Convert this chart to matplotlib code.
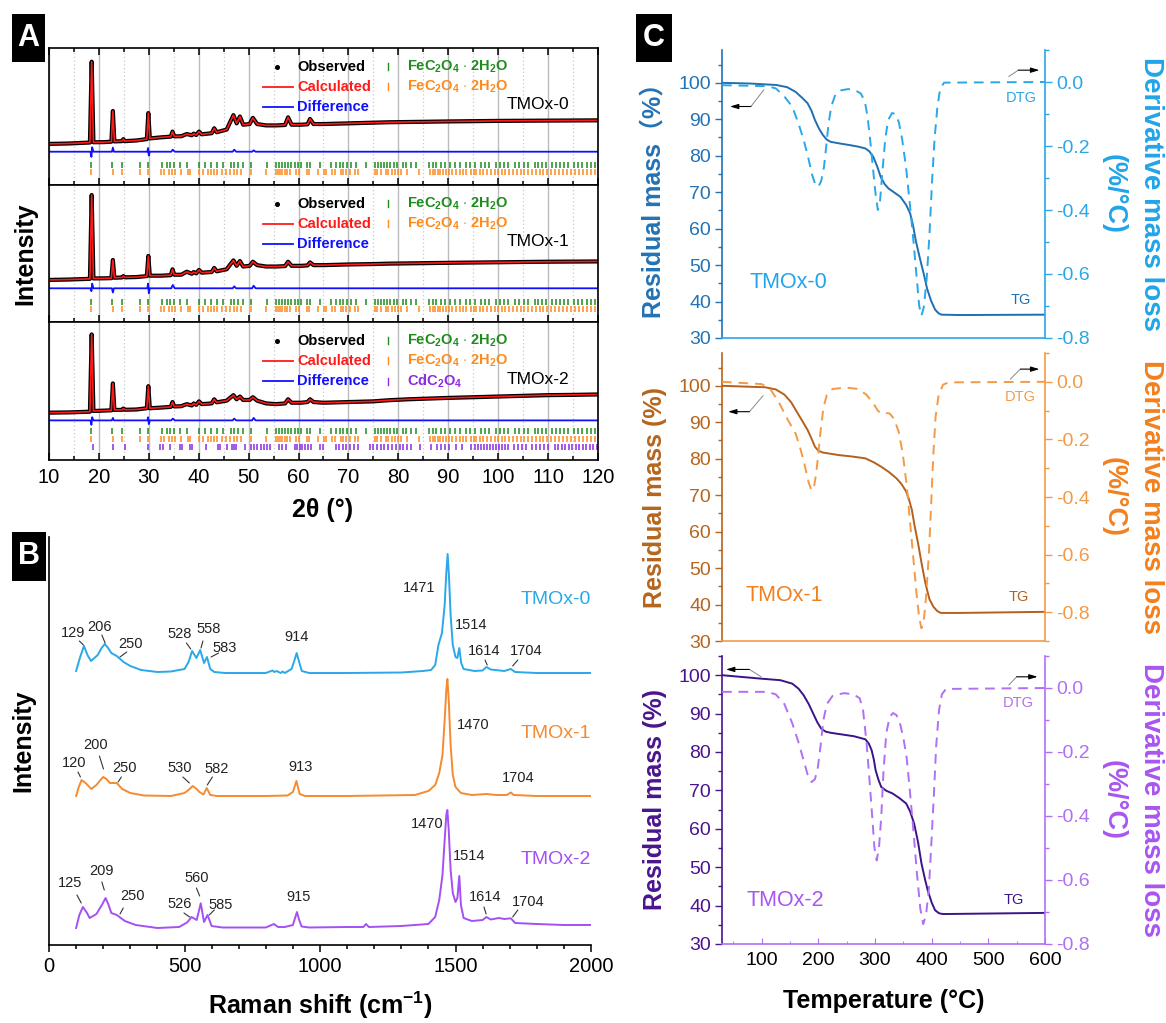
import matplotlib
matplotlib.use('Agg')
import matplotlib.pyplot as plt
from matplotlib.patches import Rectangle
from matplotlib.ticker import MultipleLocator, NullLocator, FixedLocator, FormatStrFormatter

plt.rcParams['font.family'] = ['Liberation Sans', 'DejaVu Sans']
plt.rcParams['mathtext.fontset'] = 'custom'
plt.rcParams['mathtext.rm'] = 'Liberation Sans:bold'
plt.rcParams['mathtext.it'] = 'Liberation Sans:bold'
plt.rcParams['mathtext.bf'] = 'Liberation Sans:bold'
plt.rcParams['mathtext.default'] = 'rm'
plt.rcParams['axes.linewidth'] = 1.2

# ---------------- DATA ----------------
# Panel A: XRD (2theta knots, intensity in panel units 0-100)
xrd_x = [10, 14, 18.2, 18.55, 18.9, 21, 22.5, 22.8, 23.1, 24.6,
         24.9, 25.2, 27.5, 29.6, 29.9, 30.2, 32.5, 34.4, 34.75, 35.1,
         36.5, 37.6, 38.6, 39.0, 39.5, 40.05, 40.6, 42.6, 43.1, 43.6,
         45.6, 46.95, 47.6, 48.25, 48.9, 50.2, 50.85, 51.7, 53.5, 55.5,
         57.3, 57.9, 58.6, 60.5, 61.8, 62.3, 63.0, 65, 70, 75,
         78, 82, 86, 90, 95, 100, 105, 110, 115, 120]
calc_tmox0 = [30, 30.3, 31, 90, 31.2, 31.3, 31.6, 54, 31.8, 32,
              33.5, 32, 32.5, 33.5, 52.5, 34, 34.8, 35.3, 39, 35.5,
              35.6, 37.2, 36.3, 37.5, 36.5, 39, 37, 37.8, 41.4, 38.5,
              40.5, 51, 45, 50, 44, 44.5, 49, 44.5, 43.5, 43.5,
              43.8, 49.4, 44, 44, 44.3, 48.2, 44.5, 44.5, 45, 45.5,
              45.8, 46, 46.2, 46.4, 46.6, 46.8, 46.9, 47, 47.1, 47.2]
calc_tmox1 = [30.7, 31, 31.5, 92.7, 31.8, 31.9, 32, 45.3, 32.3, 32.5,
              33.5, 32.6, 32.8, 33.5, 48.2, 33.8, 33.8, 34.2, 38.5, 34.5,
              34.5, 36.7, 35.2, 36.5, 35.5, 38, 36, 36.5, 39.5, 37,
              38.5, 45, 41, 44.5, 40.5, 41, 44, 41.5, 40.5, 40.5,
              40.8, 44, 41, 41, 41.3, 43.5, 41.5, 41.5, 42, 42.3,
              42.6, 42.8, 43, 43.2, 43.4, 43.6, 43.8, 44, 44.1, 44.2]
calc_tmox2 = [34.3, 34.5, 35, 91, 35.5, 35.8, 36, 55.5, 36.3, 36.3,
              37.3, 36.4, 36.6, 37.5, 53.5, 37.5, 38, 38.5, 42, 38.8,
              39, 40.5, 39.5, 41, 40, 42.5, 40.5, 41, 44, 41.8,
              43, 47, 44, 46, 43.5, 43.5, 45.5, 43, 41, 40.5,
              41, 44, 41.5, 41.5, 42, 44, 42, 41.5, 42, 42.5,
              43.3, 44, 44.5, 45, 45.5, 46, 46.5, 47, 47.2, 47.5]
obs_tmox0 = calc_tmox0
obs_tmox1 = calc_tmox1
obs_tmox2 = calc_tmox2
diff_x = [10, 18.3, 18.5, 18.65, 18.9, 22.6, 22.8, 23.0, 29.7, 29.85, 30.0,
          30.2, 34.5, 34.8, 35.2, 46.8, 47.1, 47.5, 50.7, 51.0, 51.4, 120]
diff_tmox0 = [24.3, 24.3, 20.5, 27.5, 24.3, 24.3, 27.3, 24.3, 24.3, 27.0, 21.5,
              24.3, 24.3, 25.8, 24.3, 24.3, 25.8, 24.3, 24.3, 25.3, 24.3, 24.3]
diff_tmox1 = [24.6, 24.6, 22.5, 28.0, 24.6, 24.6, 21.5, 24.6, 24.6, 28.0, 21.0,
              24.6, 24.6, 27.0, 24.6, 24.6, 26.0, 24.6, 24.6, 26.5, 24.6, 24.6]
diff_tmox2 = [28.7, 28.7, 25.5, 31.0, 28.7, 28.7, 30.5, 28.7, 28.7, 31.0, 26.0,
              28.7, 28.7, 30.0, 28.7, 28.7, 30.0, 28.7, 28.7, 30.5, 28.7, 28.7]
refl_fe_a = [18.5, 22.7, 24.6, 28.2, 29.8, 32.6, 33.7, 34.3, 35.0, 36.3, 37.7, 40.0,
             41.2, 42.5, 43.7, 44.9, 46.4, 47.0, 47.8, 48.9, 50.5, 53.6, 55.4, 56.0,
             56.6, 57.2, 57.9, 58.5, 59.2, 59.8, 60.5, 61.6, 62.3, 64.3, 66.5, 67.6,
             68.3, 69.0, 69.8, 70.6, 71.5, 73.5, 75.3, 75.9, 76.5, 77.1, 77.7, 78.4,
             79.1, 79.8, 80.9, 81.6, 82.5, 83.6, 86.2, 86.9, 87.6, 88.5, 89.4, 90.4,
             91.3, 92.4, 93.6, 94.4, 95.3, 96.5, 97.4, 98.2, 99.5, 100.4, 101.2, 102.0,
             103.4, 104.2, 105.1, 106.0, 107.3, 108.0, 108.8, 109.6, 110.7, 111.5,
             112.3, 113.1, 114.0, 115.2, 116.0, 116.8, 117.7, 118.6, 119.4]
refl_fe_b = [18.5, 22.9, 24.7, 28.3, 29.9, 32.4, 33.0, 34.1, 34.6, 35.3, 36.5, 37.8,
             38.2, 40.1, 40.8, 41.8, 42.4, 43.0, 43.6, 44.6, 45.4, 46.2, 47.0, 47.6,
             48.5, 50.5, 53.5, 55.5, 55.9, 56.3, 56.7, 57.2, 57.7, 58.3, 59.4, 60.0,
             61.6, 62.0, 63.9, 65.2, 65.6, 66.8, 67.3, 68.5, 69.0, 69.6, 70.4, 71.3,
             72.0, 75.4, 75.8, 76.6, 77.5, 78.0, 78.7, 79.4, 80.0, 80.6, 81.8, 84.1,
             86.4, 86.9, 87.4, 87.9, 88.4, 89.0, 89.6, 90.2, 90.8, 91.6, 92.4, 93.0,
             93.6, 94.6, 95.1, 95.6, 96.3, 97.0, 97.8, 98.6, 99.3, 100.0, 100.7, 101.4,
             102.2, 103.0, 103.8, 104.5, 105.2, 106.0, 106.7, 107.5, 108.3, 109.0,
             109.8, 110.6, 111.4, 112.2, 113.0, 113.8, 114.6, 115.4, 116.2, 117.0,
             117.8, 118.6, 119.4]
refl_cd = [18.9, 22.9, 25.2, 29.9, 32.2, 32.9, 34.2, 36.2, 36.7, 38.2, 38.7, 41.4,
           43.8, 44.3, 45.6, 46.6, 47.1, 47.5, 49.3, 50.4, 51.0, 51.6, 52.5, 53.0,
           53.6, 54.3, 56.0, 56.6, 57.5, 59.2, 59.7, 60.2, 60.7, 61.2, 61.8, 62.4,
           64.2, 65.0, 67.5, 68.2, 68.9, 69.6, 70.3, 71.1, 72.0, 74.3, 75.0, 75.8,
           76.5, 77.2, 78.0, 78.8, 79.5, 80.3, 81.0, 81.8, 82.6, 84.4, 86.6, 87.8,
           88.6, 89.3, 90.1, 91.5, 92.7, 94.5, 95.3, 96.0, 96.6, 97.2, 97.8, 98.4,
           99.0, 99.6, 100.2, 100.8, 101.4, 102.0, 103.2, 104.0, 104.8, 105.5, 106.8,
           107.6, 108.4, 109.2, 110.0, 111.3, 112.0, 112.7, 113.4, 114.1, 114.8,
           115.5, 116.2, 116.9, 117.6, 118.3, 119.0, 119.7]
xrd_samples = ['TMOx-0', 'TMOx-1', 'TMOx-2']

# Panel B: Raman (shift, offset intensity)
raman_x0 = [100, 115, 129, 142, 155, 180, 194, 206, 218, 230, 250, 275, 300,
            340, 400, 450, 500, 515, 528, 544, 558, 572, 583,
            595, 610, 650, 800, 825, 832, 840, 855, 862, 870,
            895, 905, 914, 923, 933, 960, 1100, 1300, 1380, 1410, 1425, 1437,
            1450, 1460, 1466, 1471, 1476, 1482, 1490, 1500, 1507, 1514,
            1521, 1530, 1570, 1600, 1614, 1630, 1680, 1704, 1720, 1800, 1900, 2000]
raman_y0 = [274, 288, 299, 290, 284, 290, 297, 301, 297, 292, 289, 283, 279,
            275, 273, 273.5, 276, 283, 294, 287, 295, 282, 288,
            276, 273, 272, 272, 274.5, 273, 274, 272, 273.5, 272,
            276, 284, 292, 283, 274, 272, 272, 272.5, 274, 275, 280, 300,
            312, 340, 372, 391, 368, 330, 300, 288, 287, 297,
            282, 276, 274, 274.5, 278, 275.5, 274, 276, 273, 272, 272, 272]
raman_x1 = [100, 110, 120, 135, 156, 175, 190, 200, 212, 225, 250, 270,
            300, 350, 450, 500, 515, 530, 545, 555, 570, 582, 595, 620,
            800, 880, 900, 913, 925, 945, 1100, 1350, 1400, 1425,
            1440, 1452, 1460, 1466, 1470, 1475, 1482, 1490, 1500, 1520,
            1560, 1614, 1650, 1690, 1704, 1715, 1800, 2000]
raman_y1 = [149, 158, 165, 162, 156, 160, 165, 168, 166, 162, 162, 156,
            152, 149.5, 149, 152, 155, 159, 156, 153, 150.5, 157, 150, 149,
            149, 149.5, 153, 164, 151, 149, 149, 150, 154, 160,
            172, 190, 225, 255, 266, 245, 200, 170, 158, 152,
            150, 151, 150, 150, 152.5, 150, 149, 149]
raman_x2 = [100, 112, 125, 138, 150, 175, 195, 209, 220, 230, 250, 280, 320,
            400, 480, 510, 526, 545, 560, 572, 585, 600, 640,
            800, 830, 845, 870, 900, 908, 915, 922, 932, 960, 1100, 1160,
            1170, 1180, 1300, 1400, 1425, 1440, 1452, 1460, 1466, 1470,
            1475, 1482, 1490, 1500, 1507, 1514, 1520, 1530, 1560, 1600,
            1614, 1630, 1660, 1680, 1704, 1720, 1800, 1900, 2000]
raman_y2 = [17, 30, 38, 33, 27, 31, 40, 47, 40, 32, 30, 24, 20,
            17, 18, 22.6, 28, 25, 41.7, 23, 30, 19, 17.5,
            17.5, 21, 18, 18, 20, 27, 33, 26, 18.5, 17.5, 18, 18,
            21, 18, 19, 21, 28, 45, 70, 105, 130, 135,
            115, 75, 52, 43, 47, 69, 40, 27, 24, 25,
            28, 25.5, 27, 26, 26.7, 22, 21, 20, 20]
raman_peaks0 = ['129', '206', '250', '528', '558', '583', '914', '1471', '1514', '1614', '1704']
raman_peaks1 = ['120', '200', '250', '530', '582', '913', '1470', '1704']
raman_peaks2 = ['125', '209', '250', '526', '560', '585', '915', '1470', '1514', '1614', '1704']

# Panel C: TG (residual mass %) / DTG (%/°C)
tg_t0 = [30, 80, 126, 145, 160, 172, 181, 188, 194, 201, 208, 215, 222, 240, 256, 270,
         283, 290, 297, 304, 310, 317, 324, 335, 345, 355, 362, 367, 372, 379, 386,
         392, 399, 406, 412, 417, 450, 600]
tg_m0 = [100, 99.8, 99.4, 98.8, 97.5, 95.8, 94.4, 92.3, 89.8, 87.5, 85.7, 84.4, 83.8, 83.3,
         82.9, 82.5, 82, 81.2, 79.7, 77, 74.2, 72.2, 71, 69.8, 68.7, 66.5, 64.2, 61, 56.7,
         52, 47.6, 43.5, 40.2, 37.8, 36.8, 36.4, 36.3, 36.4]
dtg_t0 = [30, 110, 125, 140, 154, 165, 174, 182, 189, 195, 200, 205, 210, 214, 218, 223,
          230, 240, 253, 265, 275, 282, 287, 292, 297, 301, 305, 309, 313, 318, 323, 330,
          336, 342, 348, 355, 362, 368, 374, 378, 382, 386, 391, 396, 401, 405, 410, 415,
          422, 600]
dtg_d0 = [-0.01, -0.013, -0.02, -0.045, -0.077, -0.13, -0.18, -0.235, -0.29, -0.322,
          -0.327, -0.31, -0.265, -0.2, -0.13, -0.075, -0.04, -0.026, -0.022, -0.026,
          -0.036, -0.06, -0.11, -0.19, -0.28, -0.35, -0.4, -0.37, -0.28, -0.18,
          -0.12, -0.097, -0.1, -0.125, -0.18, -0.27, -0.39, -0.5, -0.62, -0.7,
          -0.73, -0.705, -0.62, -0.48, -0.3, -0.18, -0.08, -0.02, -0.002, 0.0]
tg_t1 = [30, 106, 125, 140, 152, 160, 170, 181, 188, 194, 200, 208, 236, 260, 283, 298,
         311, 325, 338, 347, 355, 360, 365, 370, 376, 382, 389, 396, 403, 410, 416, 450, 600]
tg_m1 = [100, 99.6, 99.0, 97.6, 95.5, 93.4, 90.8, 87.9, 85.5, 83.3, 82.2, 81.7, 81, 80.6,
         80.1, 79, 77.8, 76.3, 74.6, 73, 71, 68.8, 66, 61.5, 56.8, 51.5, 45.8, 41.5, 39.4,
         38.2, 37.7, 37.7, 38.0]
dtg_t1 = [30, 100, 115, 130, 147, 160, 168, 176, 183, 188, 192, 196, 200, 204, 209, 215,
          225, 249, 270, 285, 297, 305, 311, 318, 326, 334, 342, 349, 356, 362, 368, 373,
          378, 382, 386, 390, 395, 399, 403, 407, 412, 420, 430, 600]
dtg_d1 = [0.0, -0.008, -0.025, -0.07, -0.135, -0.18, -0.23, -0.29, -0.35, -0.377,
          -0.37, -0.32, -0.25, -0.17, -0.09, -0.045, -0.025, -0.02, -0.025, -0.045,
          -0.075, -0.1, -0.11, -0.108, -0.11, -0.13, -0.175, -0.25, -0.36, -0.49,
          -0.62, -0.73, -0.82, -0.856, -0.83, -0.75, -0.6, -0.43, -0.25, -0.12,
          -0.05, -0.01, -0.002, 0.0]
tg_t2 = [30, 99, 133, 154, 165, 174, 183, 191, 198, 205, 213, 222, 263, 283, 289, 294,
         298, 301, 306, 311, 320, 331, 343, 355, 362, 369, 376, 382, 388, 393, 400, 406,
         413, 420, 480, 600]
tg_m2 = [100, 99.1, 98.7, 97.8, 96.5, 94.8, 92.5, 90, 87.8, 86.1, 85.3, 85, 84.1, 83.3,
         82.2, 80.5, 78, 75.3, 72.8, 70.9, 69.9, 69.2, 68, 66.6, 64.5, 61.4, 56.5, 51, 47,
         44, 40.8, 38.8, 38, 37.8, 37.9, 38.1]
dtg_t2 = [30, 110, 125, 140, 154, 165, 174, 181, 188, 194, 199, 204, 209, 215, 225, 245,
          262, 273, 279, 285, 290, 295, 299, 303, 307, 311, 315, 320, 326, 332, 338, 344,
          350, 356, 362, 368, 374, 380, 385, 390, 395, 399, 404, 408, 413, 418, 425, 600]
dtg_d2 = [-0.012, -0.012, -0.02, -0.05, -0.11, -0.17, -0.226, -0.27, -0.294, -0.285,
          -0.25, -0.18, -0.1, -0.05, -0.025, -0.016, -0.02, -0.032, -0.07, -0.17,
          -0.28, -0.4, -0.5, -0.539, -0.5, -0.403, -0.26, -0.14, -0.09, -0.078,
          -0.085, -0.11, -0.155, -0.22, -0.33, -0.45, -0.58, -0.69, -0.738, -0.71,
          -0.63, -0.5, -0.33, -0.18, -0.069, -0.02, -0.003, 0.0]
left_ticks = [30, 40, 50, 60, 70, 80, 90, 100]
right_ticks = [-0.8, -0.6, -0.4, -0.2, 0.0]
temp_ticks = [100, 200, 300, 400, 500, 600]

# ---------------- FIGURE ----------------
W, H = 1166, 1023
fig = plt.figure(figsize=(W / 100, H / 100), dpi=100)


def add_axes(x0, y0, x1, y1):
    return fig.add_axes([x0 / W, 1 - y1 / H, (x1 - x0) / W, (y1 - y0) / H])


def panel_label(x0, y0, x1, y1, s):
    fig.add_artist(Rectangle((x0 / W, 1 - y1 / H), (x1 - x0) / W, (y1 - y0) / H,
                             transform=fig.transFigure, facecolor='black', edgecolor='none'))
    fig.text((x0 + x1) / 2 / W, 1 - (y0 + y1) / 2 / H, s, color='white', fontsize=22,
             fontweight='bold', ha='center', va='center')


# ---------------- Panel A ----------------
GREEN, ORANGE, PURPLE = '#1e8c1e', '#ff8a1c', '#8c2be6'
a_rows = [(48, 185), (185, 322), (322, 460)]
calcs = [calc_tmox0, calc_tmox1, calc_tmox2]
obss = [obs_tmox0, obs_tmox1, obs_tmox2]
diffs = [diff_tmox0, diff_tmox1, diff_tmox2]
fe_label = r'FeC$_2$O$_4$ $\cdot$ 2H$_2$O'
for i, (t, b) in enumerate(a_rows):
    ax = add_axes(49, t, 598, b)
    ax.set_xlim(10, 120)
    ax.set_ylim(0, 100)
    ax.xaxis.set_major_locator(MultipleLocator(10))
    ax.xaxis.set_minor_locator(MultipleLocator(5))
    ax.yaxis.set_major_locator(NullLocator())
    ax.grid(True, which='major', axis='x', color='#bcbcbc', lw=1.0)
    ax.grid(True, which='minor', axis='x', color='#c8c8c8', lw=0.9, ls=(0, (1, 2)))
    ax.set_axisbelow(True)
    ax.tick_params(axis='x', which='both', direction='in', bottom=True, top=(i == 0),
                   labelbottom=(i == 2), labelsize=14.5, pad=6, width=1.1)
    ax.tick_params(axis='x', which='major', length=5)
    ax.tick_params(axis='x', which='minor', length=3)
    ax.plot(xrd_x, obss[i], color='black', lw=3.0, solid_joinstyle='round')
    ax.plot(xrd_x, calcs[i], color='#ff1a1a', lw=1.2)
    ax.plot(diff_x, diffs[i], color='#1010ff', lw=1.3)
    if i < 2:
        rows = [(refl_fe_a, GREEN, 14.5), (refl_fe_b, ORANGE, 9.3)]
    else:
        rows = [(refl_fe_a, GREEN, 21.2), (refl_fe_b, ORANGE, 15.3), (refl_cd, PURPLE, 9.7)]
    for pos, col, yc in rows:
        ax.vlines(pos, yc - 2.2, yc + 2.2, color=col, lw=1.1)
    # legend
    ly = [0.864, 0.718, 0.572]
    tr = ax.transAxes
    ax.plot([0.415], [ly[0]], 'o', color='black', ms=2.6, transform=tr)
    ax.plot([0.389, 0.444], [ly[1], ly[1]], color='#ff1a1a', lw=1.3, transform=tr)
    ax.plot([0.389, 0.444], [ly[2], ly[2]], color='#1010ff', lw=1.3, transform=tr)
    for r, (s, c) in enumerate([('Observed', 'black'), ('Calculated', '#ff1a1a'),
                                ('Difference', '#1010ff')]):
        ax.text(0.452, ly[r], s, color=c, fontsize=10.5, fontweight='bold', va='center', transform=tr)
    right_leg = [(fe_label, GREEN), (fe_label, ORANGE)]
    if i == 2:
        right_leg.append((r'CdC$_2$O$_4$', PURPLE))
    for r, (s, c) in enumerate(right_leg):
        ax.plot([0.6166, 0.6166], [ly[r] - 0.025, ly[r] + 0.025], color=c, lw=1.0, transform=tr)
        ax.text(0.652, ly[r], s, color=c, fontsize=10.5, fontweight='bold', va='center', transform=tr)
    ax.text(0.834, 0.585, xrd_samples[i], color='black', fontsize=12.5, va='center', transform=tr)

fig.text(25 / W, 1 - 254 / H, 'Intensity', rotation=90, fontsize=18, fontweight='bold',
         ha='center', va='center')
fig.text(323 / W, 1 - 510 / H, '2θ (°)', fontsize=18, fontweight='bold', ha='center', va='center')
panel_label(12, 14, 45, 62, 'A')

# ---------------- Panel B ----------------
BLUE_R, ORANGE_R, PURPLE_R = '#2aa8e8', '#f58a30', '#a450f2'
axb = add_axes(49, 537, 591, 945)
axb.set_xlim(0, 2000)
axb.set_ylim(0, 408)
axb.spines['top'].set_visible(False)
axb.spines['right'].set_visible(False)
axb.yaxis.set_major_locator(NullLocator())
axb.xaxis.set_major_locator(MultipleLocator(500))
axb.xaxis.set_minor_locator(MultipleLocator(100))
axb.tick_params(axis='x', which='both', direction='out', labelsize=14.5, width=1.1, pad=4)
axb.tick_params(axis='x', which='major', length=5)
axb.tick_params(axis='x', which='minor', length=3)
axb.plot(raman_x0, raman_y0, color=BLUE_R, lw=1.4)
axb.plot(raman_x1, raman_y1, color=ORANGE_R, lw=1.4)
axb.plot(raman_x2, raman_y2, color=PURPLE_R, lw=1.4)

# label layout: (text position, optional leader start/end)
b_layout0 = [(89, 312, (112, 304, 127, 300)), (188, 318, (195, 310, 207, 302)),
             (300, 301, (287, 293, 262, 288)), (481, 311, (507, 302, 523, 296)),
             (590, 316, (568, 304, 561, 297)), (647, 297, (626, 292, 598, 288)),
             (915, 308, None), (1364, 357, None), (1559, 320, None),
             (1607, 294, (1609, 285, 1617, 280)), (1760, 294, (1730, 285, 1711, 279))]
b_layout1 = [(92, 182, (107, 173, 116, 168)), (172, 200, (186, 189, 201, 176)),
             (280, 177, (267, 168, 255, 163)), (481, 177, (494, 168, 518, 162)),
             (617, 176, (603, 168, 584, 160)), (929, 178, None), (1565, 220, None),
             (1733, 167, None)]
b_layout2 = [(76, 62, (103, 50, 119, 42)), (192, 74, (195, 63, 204, 55)),
             (307, 49, (274, 37, 262, 31)), (481, 41, (498, 32, 519, 28)),
             (544, 67, (544, 57, 556, 49)), (634, 40, (610, 35, 591, 30)),
             (920, 48, None), (1394, 121, None), (1552, 89, None),
             (1611, 48, (1605, 38, 1613, 31)), (1767, 43, (1730, 35, 1711, 28))]
for labels, layout in [(raman_peaks0, b_layout0), (raman_peaks1, b_layout1),
                       (raman_peaks2, b_layout2)]:
    for s, (tx, ty, ln) in zip(labels, layout):
        axb.text(tx, ty, s, fontsize=10.5, ha='center', va='center', color='#222222')
        if ln is not None:
            axb.annotate('', xy=(ln[2], ln[3]), xytext=(ln[0], ln[1]),
                         arrowprops=dict(arrowstyle='-', lw=0.8, color='#333333',
                                         shrinkA=0, shrinkB=0))
for s, c, yy in [('TMOx-0', BLUE_R, 345), ('TMOx-1', ORANGE_R, 212), ('TMOx-2', PURPLE_R, 85)]:
    axb.text(1742, yy, s, color=c, fontsize=14, ha='left', va='center')

fig.text(23 / W, 1 - 741 / H, 'Intensity', rotation=90, fontsize=18, fontweight='bold',
         ha='center', va='center')
fig.text(320 / W, 1 - 1005 / H, 'Raman shift (cm$^{-1}$)', fontsize=18, fontweight='bold',
         ha='center', va='center')
panel_label(12, 532, 46, 581, 'B')

# ---------------- Panel C ----------------
c_rows = [(50, 338), (353, 641), (656, 944)]
c_left_lim = [(30, 109), (30, 109), (30, 105)]
c_right_lim = [(-0.8, 0.1), (-0.9, 0.1), (-0.8, 0.1)]
c_tg = [(tg_t0, tg_m0), (tg_t1, tg_m1), (tg_t2, tg_m2)]
c_dtg = [(dtg_t0, dtg_d0), (dtg_t1, dtg_d1), (dtg_t2, dtg_d2)]
c_tgcol = ['#1f6fb2', '#b5601c', '#3b1487']
c_leftcol = ['#2272b5', '#b5651d', '#4a148c']
c_rightcol = ['#2aa7e6', '#f39a48', '#b070f2']
c_rlabcol = ['#22a4e8', '#f2801e', '#a955f0']
c_names = ['TMOx-0', 'TMOx-1', 'TMOx-2']
c_ylabels = ['Residual mass（%）', 'Residual mass (%)', 'Residual mass (%)']
c_name_pos = [(148, 45.3), (140, 42.6), (141, 41.2)]
c_dtg_pos = [(558, -0.05), (556, -0.052), (553, -0.046)]
c_tg_pos = [(558, 40.4), (553, 42.0), (545, 41.4)]
c_left_arrow = [((104, 98.1), (81, 93.5), (44, 93.5)),
                ((102.6, 97.3), (78.4, 92.9), (40.7, 92.9)),
                ((99, 99.6), (78.4, 101.5), (37, 101.5))]
c_right_arrow = [((536, 0.017), (553, 0.037), (590, 0.037)),
                 ((538.6, 0.009), (556.5, 0.044), (590, 0.044)),
                 ((536, 0.009), (550, 0.035), (587, 0.035))]

for i, (t, b) in enumerate(c_rows):
    ax = add_axes(722, t, 1045, b)
    ax2 = ax.twinx()
    ax.set_xlim(30, 600)
    ax.set_ylim(*c_left_lim[i])
    ax2.set_ylim(*c_right_lim[i])
    for a in (ax, ax2):
        a.spines['top'].set_visible(False)
    ax.spines['right'].set_visible(False)
    ax2.spines['left'].set_visible(False)
    ax2.spines['bottom'].set_visible(False)
    ax.spines['left'].set_color(c_leftcol[i])
    ax2.spines['right'].set_color(c_rightcol[i])
    ax.spines['bottom'].set_color(c_rightcol[i])
    ax.yaxis.set_major_locator(FixedLocator(left_ticks))
    ax.yaxis.set_minor_locator(MultipleLocator(5))
    ax2.yaxis.set_major_locator(FixedLocator(right_ticks))
    ax2.yaxis.set_minor_locator(MultipleLocator(0.1))
    ax.tick_params(axis='y', which='both', direction='out', colors=c_leftcol[i],
                   labelsize=14, width=1.0, pad=3)
    ax.tick_params(axis='y', which='major', length=5)
    ax.tick_params(axis='y', which='minor', length=3)
    ax2.tick_params(axis='y', which='both', direction='out', colors=c_rightcol[i],
                    labelsize=14, width=1.0, pad=3)
    ax2.tick_params(axis='y', which='major', length=5)
    ax2.tick_params(axis='y', which='minor', length=3)
    ax2.yaxis.set_major_formatter(FormatStrFormatter('%.1f'))
    if i == 2:
        ax.xaxis.set_major_locator(FixedLocator(temp_ticks))
        ax.xaxis.set_minor_locator(MultipleLocator(50))
        ax.tick_params(axis='x', which='both', direction='in', labelsize=14, pad=6,
                       color=c_rightcol[i], labelcolor='black')
        ax.tick_params(axis='x', which='major', length=4)
        ax.tick_params(axis='x', which='minor', length=2.5)
    else:
        ax.xaxis.set_major_locator(NullLocator())
        ax.xaxis.set_minor_locator(NullLocator())
    ax.plot(*c_tg[i], color=c_tgcol[i], lw=1.4)
    ax2.plot(*c_dtg[i], color=c_rightcol[i], lw=1.4, ls=(0, (5, 3.5)))
    ax.text(*c_name_pos[i], c_names[i], color=c_rlabcol[i], fontsize=15.5, ha='center', va='center')
    ax2.text(*c_dtg_pos[i], 'DTG', color=c_rightcol[i], fontsize=10.5, ha='center', va='center')
    ax.text(*c_tg_pos[i], 'TG', color=c_tgcol[i], fontsize=10.5, ha='center', va='center')
    p0, p1, p2 = c_left_arrow[i]
    ax.annotate('', xy=p1, xytext=p0, arrowprops=dict(arrowstyle='-', lw=0.7, color='#888888',
                                                      shrinkA=0, shrinkB=0))
    ax.annotate('', xy=p2, xytext=p1, arrowprops=dict(arrowstyle='-|>,head_length=0.5,head_width=0.15',
                                                      lw=0.8, color='black', shrinkA=0, shrinkB=0))
    p0, p1, p2 = c_right_arrow[i]
    ax2.annotate('', xy=p1, xytext=p0, arrowprops=dict(arrowstyle='-', lw=0.7, color='#888888',
                                                       shrinkA=0, shrinkB=0))
    ax2.annotate('', xy=p2, xytext=p1, arrowprops=dict(arrowstyle='-|>,head_length=0.5,head_width=0.15',
                                                       lw=0.8, color='black', shrinkA=0, shrinkB=0))
    cy = 1 - (t + b) / 2 / H
    fig.text(655 / W, cy, c_ylabels[i], rotation=90, fontsize=18, fontweight='bold',
             color=c_leftcol[i], ha='center', va='center',
             family=['Liberation Sans', 'Noto Sans CJK SC', 'DejaVu Sans'])
    fig.text(1114 / W, cy, '(%/°C)', rotation=270, fontsize=19.5, fontweight='bold',
             color=c_rlabcol[i], ha='center', va='center')
    fig.text(1151 / W, cy, 'Derivative mass loss', rotation=270, fontsize=20, fontweight='bold',
             color=c_rlabcol[i], ha='center', va='center')

fig.text(884 / W, 1 - 1001 / H, 'Temperature (°C)', fontsize=18, fontweight='bold',
         ha='center', va='center')
panel_label(636, 14, 672, 62, 'C')

fig.savefig('out.png', dpi=100)
